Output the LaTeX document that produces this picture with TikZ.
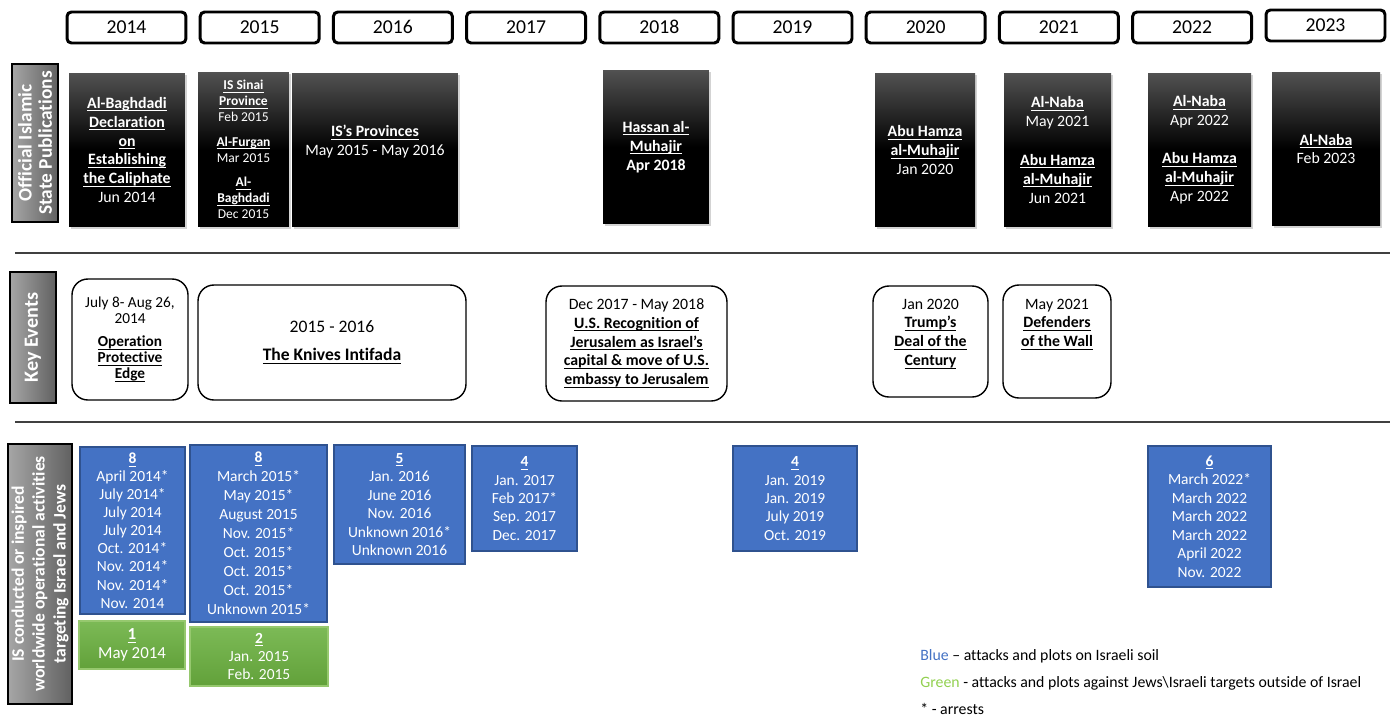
\documentclass[tikz,border=0pt]{standalone}
\usepackage{fontspec}
\setmainfont{Carlito}[Ligatures={TeX,NoCommon}]
\usetikzlibrary{shadows}
\definecolor{attackblue}{RGB}{68,114,196}
\definecolor{attackline}{RGB}{47,82,143}
\definecolor{legendgreen}{RGB}{146,208,80}
\definecolor{greentop}{RGB}{124,186,86}
\definecolor{greenbot}{RGB}{98,161,58}
\definecolor{greenline}{RGB}{150,200,110}
\newcommand{\ulb}[1]{\textbf{\underline{\raisebox{0pt}[\height][0pt]{#1}}}}
\begin{document}
\begin{tikzpicture}[x=0.02cm,y=-0.02cm,
  yearbox/.style={draw,line width=1.7pt,rounded corners=2.5pt,fill=white,minimum width=2.38cm,minimum height=0.62cm,inner sep=0pt,text height=1.5ex,text depth=0.1ex,font=\fontsize{11.2}{13}\selectfont},
  sidelabel/.style={draw=black,line width=0.8pt,rotate=90,left color=black!35,right color=black!62,text=white,align=center,inner sep=0pt,font=\bfseries\fontsize{11}{11.5}\selectfont},
  pubbox/.style={top color=black!68,bottom color=black,middle color=black,text=white,align=center,inner sep=0pt,minimum height=3.08cm,font=\fontsize{9}{10.8}\selectfont,drop shadow={shadow xshift=1.2pt,shadow yshift=-1.2pt,opacity=0.35}},
  eventbox/.style={draw,line width=0.8pt,rounded corners=9pt,fill=white,align=center,inner sep=0pt,font=\fontsize{9}{10.7}\selectfont},
  attackbox/.style={draw=attackline,line width=0.8pt,fill=attackblue,text=white,align=center,inner sep=0pt,font=\fontsize{8.8}{10.5}\selectfont},
  abroadbox/.style={draw=greenline,line width=0.6pt,top color=greentop,bottom color=greenbot,text=white,align=center,inner sep=0pt,font=\fontsize{8.8}{10.5}\selectfont},
  legend/.style={anchor=west,inner sep=0pt,font=\fontsize{9}{10.8}\selectfont}]
  \useasboundingbox (0,0) rectangle (1390,717);

  \foreach \yr [count=\i from 0] in {2014,...,2022}
    \node[yearbox] (y\yr) at (126.5+133.2*\i,27.5) {\yr};
  \node[yearbox] (y2023) at (1325.5,25.5) {2023};

  \node[sidelabel,minimum width=3.16cm,minimum height=0.92cm] (lpub) at (35,143) {Official Islamic\\State Publications};
  \node[sidelabel,minimum width=2.62cm,minimum height=0.92cm,font=\bfseries\fontsize{11.5}{12}\selectfont] (lkey) at (33,337.5) {Key Events};
  \node[sidelabel,minimum width=5.2cm,minimum height=1.28cm,font=\bfseries\fontsize{10}{11.9}\selectfont] (lops) at (40,574) {IS conducted or inspired\\worldwide operational activities\\targeting Israel and Jews};

  \draw[black!75,line width=0.6pt] (15,253) -- (1390,253);
  \draw[black!75,line width=0.6pt] (15,422) -- (1390,422);

  % publications
  \node[pubbox,minimum width=2.32cm] (baghdadi) at (127,150) {\ulb{Al-Baghdadi}\\\ulb{Declaration}\\\ulb{on}\\\ulb{Establishing}\\\ulb{the Caliphate}\\Jun 2014};
  \node[pubbox,minimum width=1.82cm,minimum height=3.1cm,font=\fontsize{7.7}{9.1}\selectfont] (sinai) at (243.5,149.5) {\ulb{IS Sinai}\\\ulb{Province}\\Feb 2015\\[5pt]\ulb{Al-Furgan}\\Mar 2015\\[5pt]\ulb{Al-}\\\ulb{Baghdadi}\\Dec 2015};
  \node[pubbox,minimum width=3.32cm] (provinces) at (375,150) {\ulb{IS's Provinces}\\May 2015 - May 2016\\~};
  \node[pubbox,minimum width=2.12cm] (hassan) at (656,147) {\ulb{Hassan al-}\\\ulb{Muhajir}\\\textbf{Apr 2018}};
  \node[pubbox,minimum width=2cm] (hamza20) at (925,150) {\ulb{Abu Hamza}\\\ulb{al-Muhajir}\\Jan 2020};
  \node[pubbox,minimum width=2.14cm] (naba21) at (1057.5,150) {\ulb{Al-Naba}\\May 2021\\[11pt]\ulb{Abu Hamza}\\\ulb{al-Muhajir}\\Jun 2021};
  \node[pubbox,minimum width=2.06cm] (naba22) at (1199.5,150) {\ulb{Al-Naba}\\Apr 2022\\[11pt]\ulb{Abu Hamza}\\\ulb{al-Muhajir}\\Apr 2022};
  \node[pubbox,minimum width=2.16cm] (naba23) at (1326,149) {\ulb{Al-Naba}\\Feb 2023};

  % key events
  \node[eventbox,minimum width=2.32cm,minimum height=2.42cm,font=\fontsize{8.7}{9.2}\selectfont] (edge) at (130,339.5) {July 8- Aug 26,\\2014\\[4pt]\ulb{Operation}\\\ulb{Protective}\\\ulb{Edge}};
  \node[eventbox,minimum width=5.36cm,minimum height=2.3cm,font=\fontsize{10}{12}\selectfont] (knives) at (332,342.5) {2015 - 2016\\[4pt]\ulb{The Knives Intifada}};
  \node[eventbox,minimum width=3.62cm,minimum height=2.3cm] (embassy) at (636.5,343.5) {Dec 2017 - May 2018\\\ulb{U.S. Recognition of}\\\ulb{Jerusalem as Israel's}\\\ulb{capital \& move of U.S.}\\\ulb{embassy to Jerusalem}};
  \node[eventbox,minimum width=2.3cm,minimum height=2.22cm] (trump) at (930.5,341.5) {Jan 2020\\\ulb{Trump's}\\\ulb{Deal of the}\\\ulb{Century}\\~};
  \node[eventbox,minimum width=2.16cm,minimum height=2.26cm] (wall) at (1057,341.5) {May 2021\\\ulb{Defenders}\\\ulb{of the Wall}\\~\\~};

  % operational activities
  \node[attackbox,minimum width=2.1cm,minimum height=3.34cm,font=\fontsize{8.8}{10.3}\selectfont] (att14) at (132.5,530.5) {\ulb{8}\\April 2014*\\July 2014*\\July 2014\\July 2014\\Oct. 2014*\\Nov. 2014*\\Nov. 2014*\\Nov. 2014};
  \node[attackbox,minimum width=2.74cm,minimum height=3.54cm,font=\fontsize{8.8}{10.8}\selectfont] (att15) at (258.5,533.5) {\ulb{8}\\March 2015*\\May 2015*\\August 2015\\Nov. 2015*\\Oct. 2015*\\Oct. 2015*\\Oct. 2015*\\Unknown 2015*};
  \node[attackbox,minimum width=2.62cm,minimum height=2.38cm] (att16) at (399.5,504.5) {\ulb{5}\\Jan. 2016\\June 2016\\Nov. 2016\\Unknown 2016*\\Unknown 2016};
  \node[attackbox,minimum width=2.1cm,minimum height=2.1cm] (att17) at (524.5,498.5) {\ulb{4}\\Jan. 2017\\Feb 2017*\\Sep. 2017\\Dec. 2017};
  \node[attackbox,minimum width=2.48cm,minimum height=2.1cm] (att19) at (795,498.5) {\ulb{4}\\Jan. 2019\\Jan. 2019\\July 2019\\Oct. 2019};
  \node[attackbox,minimum width=2.46cm,minimum height=2.82cm] (att22) at (1209.5,516.5) {\ulb{6}\\March 2022*\\March 2022\\March 2022\\March 2022\\April 2022\\Nov. 2022};
  \node[abroadbox,minimum width=2.12cm,minimum height=0.96cm,font=\fontsize{9.6}{11}\selectfont] (abr14) at (132,645) {\ulb{1}\\May 2014};
  \node[abroadbox,minimum width=2.76cm,minimum height=1.18cm] (abr15) at (259,656.5) {\ulb{2}\\Jan. 2015\\Feb. 2015};

  \node[legend] (keyblue) at (920,656) {\textcolor{attackblue}{Blue} – attacks and plots on Israeli soil};
  \node[legend] (keygreen) at (920,683) {\textcolor{legendgreen}{Green} - attacks and plots against Jews\textbackslash Israeli targets outside of Israel};
  \node[legend] (keyarrest) at (920,709) {* - arrests};
\end{tikzpicture}
\end{document}
